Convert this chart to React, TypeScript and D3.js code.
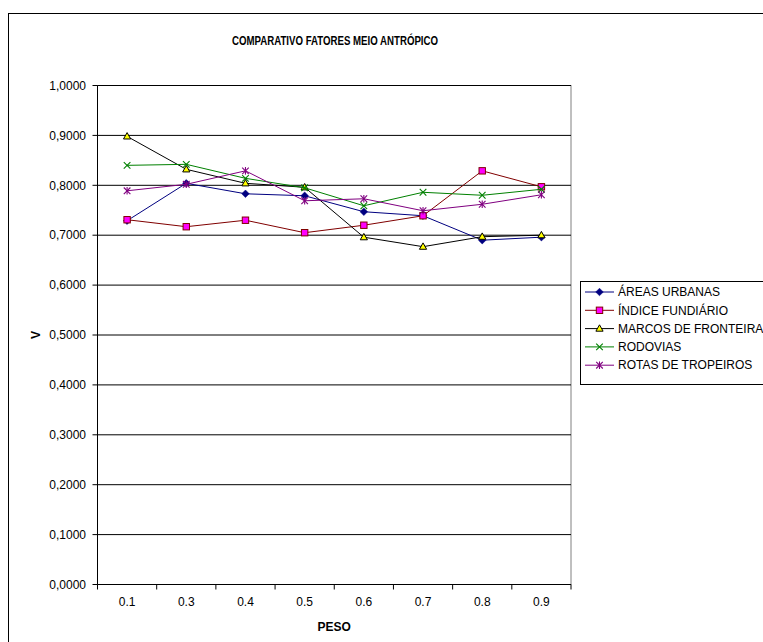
import React from "react";
import * as d3 from "d3";

const categories = ["0.1", "0.3", "0.4", "0.5", "0.6", "0.7", "0.8", "0.9"];
const yTicks = [0, 0.1, 0.2, 0.3, 0.4, 0.5, 0.6, 0.7, 0.8, 0.9, 1.0];

const areasUrbanas = [0.729, 0.804, 0.783, 0.779, 0.747, 0.739, 0.690, 0.696];
const indiceFundiario = [0.731, 0.717, 0.730, 0.705, 0.720, 0.739, 0.829, 0.797];
const marcosFronteira = [0.898, 0.832, 0.804, 0.796, 0.696, 0.677, 0.697, 0.700];
const rodovias = [0.840, 0.842, 0.814, 0.795, 0.759, 0.786, 0.780, 0.792];
const rotasTropeiros = [0.789, 0.802, 0.829, 0.769, 0.773, 0.749, 0.762, 0.781];

const seriesNames = ["ÁREAS URBANAS", "ÍNDICE FUNDIÁRIO", "MARCOS DE FRONTEIRA", "RODOVIAS", "ROTAS DE TROPEIROS"];
const seriesValues = [areasUrbanas, indiceFundiario, marcosFronteira, rodovias, rotasTropeiros];
const lineColors = ["#000080", "#800000", "#000000", "#008000", "#800080"];
const markerTypes = ["diamond", "square", "triangle", "x", "star"];

const W = 763;
const H = 642;
const plot = { left: 97.5, right: 571, top: 85.5, bottom: 584.5 };
const FONT = "'Liberation Sans', Arial, sans-serif";

function Marker({ type, x, y }: { type: string; x: number; y: number }) {
  if (type === "diamond") {
    const r = 3.8;
    return (
      <path
        d={`M${x},${y - r}L${x + r},${y}L${x},${y + r}L${x - r},${y}Z`}
        fill="#000080"
        stroke="#000080"
        strokeWidth={0.5}
      />
    );
  }
  if (type === "square") {
    return <rect x={x - 3.2} y={y - 3.2} width={6.4} height={6.4} fill="#FF00FF" stroke="#800000" strokeWidth={1} />;
  }
  if (type === "triangle") {
    return (
      <path
        d={`M${x},${y - 3.8}L${x + 3.6},${y + 2.6}L${x - 3.6},${y + 2.6}Z`}
        fill="#FFFF00"
        stroke="#000000"
        strokeWidth={1}
      />
    );
  }
  if (type === "x") {
    const r = 3.3;
    return (
      <g stroke="#008000" strokeWidth={1.1}>
        <line x1={x - r} y1={y - r} x2={x + r} y2={y + r} />
        <line x1={x - r} y1={y + r} x2={x + r} y2={y - r} />
      </g>
    );
  }
  const r = 3.3;
  return (
    <g stroke="#800080" strokeWidth={1.1}>
      <line x1={x - r} y1={y - r} x2={x + r} y2={y + r} />
      <line x1={x - r} y1={y + r} x2={x + r} y2={y - r} />
      <line x1={x} y1={y - r - 0.5} x2={x} y2={y + r + 0.5} />
    </g>
  );
}

export default function App() {
  const x = d3.scaleBand<string>().domain(categories).range([plot.left, plot.right]);
  const y = d3.scaleLinear().domain([0, 1]).range([plot.bottom, plot.top]);
  const cx = (c: string) => (x(c) as number) + x.bandwidth() / 2;
  const line = d3
    .line<number>()
    .x((_, i) => cx(categories[i]))
    .y((d) => y(d));

  const fmt = (v: number) => v.toFixed(4).replace(".", ",");
  const bounds = categories.map((c) => x(c) as number).concat([plot.right]);

  const legendX = 580.5;
  const legendY = 281.5;
  const legendStep = 18.3;

  return (
    <svg
      width={W}
      height={H}
      style={{ position: "absolute", left: 0, top: 0, background: "#fff" }}
      fontFamily={FONT}
    >
      <rect x={0} y={0} width={W} height={H} fill="#fff" />
      <rect x={8.5} y={13.5} width={800} height={700} fill="none" stroke="#000" strokeWidth={1} />

      <text x={335} y={45} textAnchor="middle" fontSize={13} fontWeight="bold" textLength={206} lengthAdjust="spacingAndGlyphs">
        COMPARATIVO FATORES MEIO ANTRÓPICO
      </text>

      {/* plot border */}
      <rect x={plot.left} y={plot.top} width={plot.right - plot.left} height={plot.bottom - plot.top} fill="none" stroke="#808080" strokeWidth={1} />

      {/* gridlines and y ticks */}
      {yTicks.map((t) => (
        <g key={t}>
          <line x1={plot.left} x2={plot.right} y1={y(t)} y2={y(t)} stroke="#000" strokeWidth={1} />
          <line x1={plot.left - 5} x2={plot.left} y1={y(t)} y2={y(t)} stroke="#000" strokeWidth={1} />
          <text x={86} y={y(t)} dy="0.35em" textAnchor="end" fontSize={12} fill="#000">
            {fmt(t)}
          </text>
        </g>
      ))}
      <line x1={plot.left} x2={plot.left} y1={plot.top} y2={plot.bottom} stroke="#000" strokeWidth={1} />

      {/* x ticks */}
      {bounds.map((b, i) => (
        <line key={i} x1={b} x2={b} y1={plot.bottom} y2={plot.bottom + 5} stroke="#000" strokeWidth={1} />
      ))}
      {categories.map((c) => (
        <text key={c} x={cx(c)} y={606} textAnchor="middle" fontSize={12} fill="#000">
          {c}
        </text>
      ))}

      <text x={(plot.left + plot.right) / 2} y={631} textAnchor="middle" fontSize={12} fontWeight="bold">
        PESO
      </text>
      <text transform={`translate(40,${(plot.top + plot.bottom) / 2}) rotate(-90)`} textAnchor="middle" fontSize={12} fontWeight="bold">
        V
      </text>

      {/* series */}
      {seriesValues.map((vals, si) => (
        <g key={si}>
          <path d={line(vals) as string} fill="none" stroke={lineColors[si]} strokeWidth={1} />
          {vals.map((v, i) => (
            <Marker key={i} type={markerTypes[si]} x={cx(categories[i])} y={y(v)} />
          ))}
        </g>
      ))}

      {/* legend */}
      <rect x={legendX} y={legendY} width={300} height={103} fill="#fff" stroke="#000" strokeWidth={1} />
      {seriesNames.map((n, i) => {
        const ly = 292 + i * legendStep;
        return (
          <g key={n}>
            <line x1={585} x2={614} y1={ly} y2={ly} stroke={lineColors[i]} strokeWidth={1} />
            <Marker type={markerTypes[i]} x={599.5} y={ly} />
            <text x={618} y={ly} dy="0.35em" fontSize={12} fill="#000">
              {n}
            </text>
          </g>
        );
      })}
    </svg>
  );
}
